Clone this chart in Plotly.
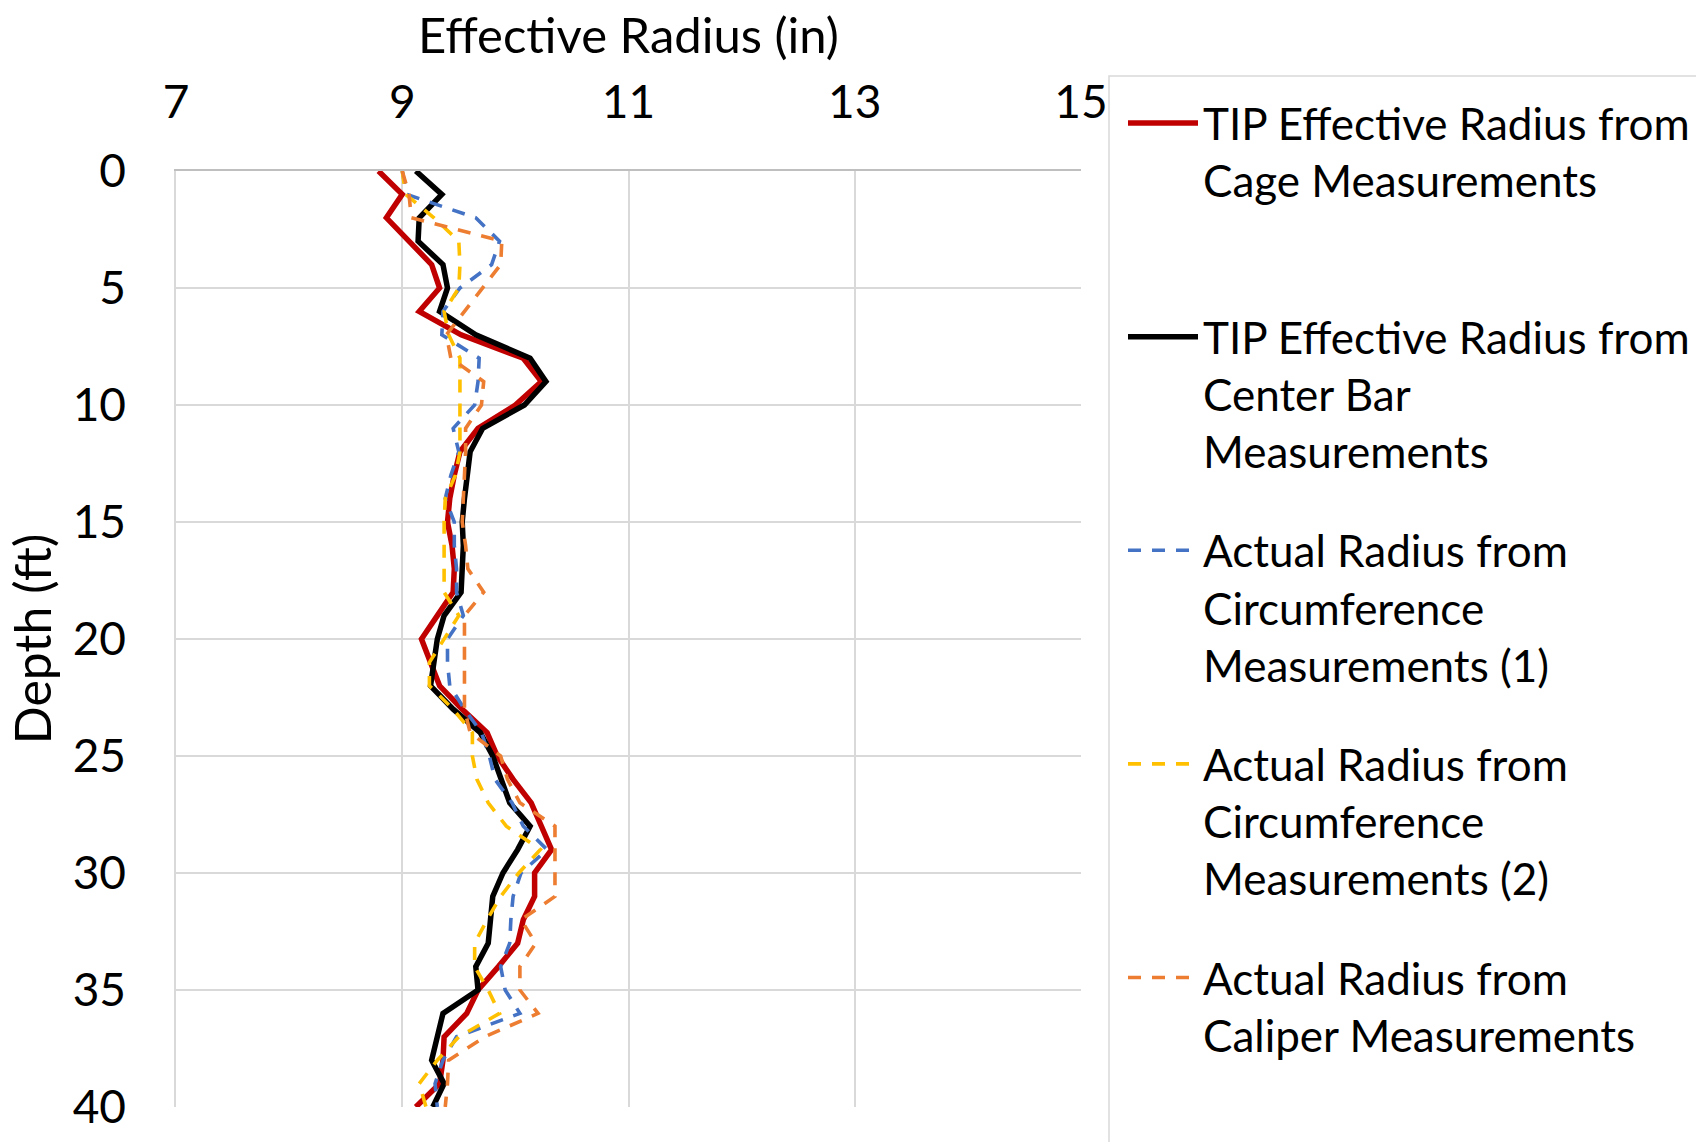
import plotly.graph_objects as go

# Depth below top of shaft (ft), one reading per foot
depth_ft = list(range(0, 41))

# TIP effective radius from cage measurements (in)
tip_cage = [8.79, 9.00, 8.86, 9.06, 9.26, 9.33, 9.15, 9.52, 10.07, 10.23,
            10.00, 9.67, 9.51, 9.46, 9.42, 9.40, 9.44, 9.46, 9.45, 9.31,
            9.17, 9.25, 9.33, 9.53, 9.75, 9.84, 9.98, 10.14, 10.23, 10.32,
            10.17, 10.17, 10.07, 10.02, 9.85, 9.67, 9.57, 9.37, 9.36, 9.33,
            9.12]

# TIP effective radius from center bar measurements (in)
tip_center = [9.12, 9.35, 9.15, 9.14, 9.36, 9.40, 9.33, 9.65, 10.13, 10.27,
              10.08, 9.71, 9.60, 9.57, 9.55, 9.53, 9.54, 9.53, 9.52, 9.37,
              9.31, 9.28, 9.25, 9.45, 9.69, 9.80, 9.88, 9.95, 10.13, 10.02,
              9.89, 9.80, 9.78, 9.76, 9.65, 9.67, 9.36, 9.31, 9.26, 9.37,
              9.27]

# Actual radius from circumference measurements, set 1 (in)
circ_1 = [9.00, 9.04, 9.65, 9.86, 9.79, 9.51, 9.36, 9.35, 9.68, 9.67,
          9.64, 9.45, 9.50, 9.43, 9.38, 9.46, 9.46, 9.48, 9.48, 9.54,
          9.40, 9.40, 9.42, 9.55, 9.70, 9.77, 9.82, 9.97, 10.07, 10.28,
          10.05, 9.98, 9.96, 9.95, 9.87, 9.91, 10.04, 9.48, 9.36, 9.29,
          9.31]

# Actual radius from circumference measurements, set 2 (in)
circ_2 = [9.00, 9.03, 9.28, 9.50, 9.51, 9.50, 9.37, 9.41, 9.51, 9.51,
          9.51, 9.51, 9.51, 9.47, 9.38, 9.37, 9.37, 9.37, 9.37, 9.50,
          9.37, 9.24, 9.24, 9.45, 9.62, 9.62, 9.66, 9.76, 9.92, 10.22,
          10.03, 9.87, 9.75, 9.64, 9.64, 9.76, 9.86, 9.50, 9.31, 9.15,
          9.21]

# Actual radius from caliper measurements (in)
caliper = [9.00, 9.06, 9.08, 9.88, 9.87, 9.71, 9.55, 9.39, 9.43, 9.72,
           9.70, 9.56, 9.56, 9.55, 9.54, 9.53, 9.56, 9.58, 9.72, 9.55,
           9.55, 9.55, 9.55, 9.55, 9.60, 9.87, 9.93, 10.04, 10.35, 10.35,
           10.35, 10.35, 10.05, 10.18, 10.04, 10.04, 10.20, 9.73, 9.41, 9.40,
           9.38]

series_names = [
    "TIP Effective Radius from<br>Cage Measurements<br> ",
    "TIP Effective Radius from<br>Center Bar<br>Measurements",
    "Actual Radius from<br>Circumference<br>Measurements (1)",
    "Actual Radius from<br>Circumference<br>Measurements (2)",
    "Actual Radius from<br>Caliper Measurements",
]
series_values = [tip_cage, tip_center, circ_1, circ_2, caliper]
series_colors = ["#C00000", "#000000", "#4472C4", "#FFC000", "#ED7D31"]
series_widths = [5.5, 5.5, 3.6, 3.6, 3.6]
series_dash = ["solid", "solid", "13px,11px", "13px,11px", "13px,11px"]

FONT = "Lato"
W, H = 1696, 1142
L, R, T, B = 176, 1081, 171, 1107

fig = go.Figure()
for i, (name, vals) in enumerate(zip(series_names, series_values)):
    fig.add_trace(go.Scatter(
        x=vals, y=depth_ft, mode="lines", name=name,
        legendgroup=f"g{i}",
        line=dict(color=series_colors[i], width=series_widths[i],
                  dash=series_dash[i]),
    ))

# legend frame running off the right and bottom edges
fig.add_shape(type="rect", xref="paper", yref="paper",
              x0=(1109 - L) / (R - L), x1=(1800 - L) / (R - L),
              y0=(B - 1200) / (B - T), y1=(B - 76) / (B - T),
              line=dict(color="#d9d9d9", width=1.5), fillcolor="rgba(0,0,0,0)",
              layer="below")

fig.update_layout(
    width=W, height=H,
    margin=dict(l=L, r=W - R, t=T, b=H - B, autoexpand=False),
    paper_bgcolor="white", plot_bgcolor="white",
    font=dict(family=FONT, size=44, color="black"),
    showlegend=True,
    legend=dict(
        x=(1123 - L) / (R - L), xanchor="left",
        y=(B - 88) / (B - T), yanchor="top",
        font=dict(family=FONT, size=44, color="black"),
        valign="top", itemwidth=70, tracegroupgap=39,
        maxheight=1400,
        bgcolor="rgba(0,0,0,0)", borderwidth=0,
    ),
    xaxis=dict(
        side="top", range=[7, 15], tickvals=[7, 9, 11, 13, 15],
        showgrid=True, gridcolor="#d9d9d9", gridwidth=1.5,
        zeroline=False, showline=True, linecolor="#bfbfbf", linewidth=1.5,
        ticks="", ticklabelstandoff=33,
        tickfont=dict(family=FONT, size=46),
        title=dict(text="Effective Radius (in)", standoff=4,
                   font=dict(family=FONT, size=49)),
    ),
    yaxis=dict(
        range=[40, 0], tickvals=[0, 5, 10, 15, 20, 25, 30, 35, 40],
        showgrid=True, gridcolor="#d9d9d9", gridwidth=1.5,
        zeroline=False, showline=True, linecolor="#d9d9d9", linewidth=1.5,
        ticks="", ticklabelstandoff=39,
        tickfont=dict(family=FONT, size=46),
        title=dict(text="Depth (ft)", standoff=5,
                   font=dict(family=FONT, size=50)),
    ),
)

fig.write_html("out.html")
